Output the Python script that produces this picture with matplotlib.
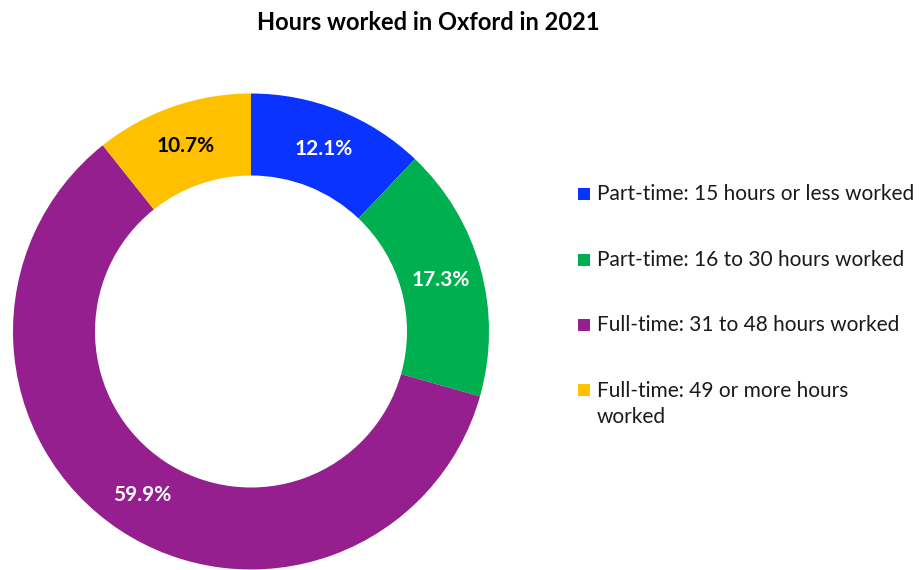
import matplotlib
matplotlib.use("Agg")
import matplotlib.pyplot as plt
from matplotlib.patches import Rectangle

plt.rcParams['font.family'] = ['Lato', 'DejaVu Sans']

title = "Hours worked in Oxford in 2021"
categories = [
    "Part-time: 15 hours or less worked",
    "Part-time: 16 to 30 hours worked",
    "Full-time: 31 to 48 hours worked",
    "Full-time: 49 or more hours\nworked",
]
values = [12.1, 17.3, 59.9, 10.7]
colors = ["#0A33FF", "#00B050", "#951F8F", "#FFC000"]
label_colors = ["white", "white", "white", "black"]

W, H = 922, 570
fig = plt.figure(figsize=(W / 100, H / 100), dpi=100)

cx, cy, R = 251, 331.5, 238
ax = fig.add_axes([(cx - R) / W, (H - cy - R) / H, 2 * R / W, 2 * R / H])

width = 1 - 156 / 238
wedges, texts, autotexts = ax.pie(
    values, colors=colors, startangle=90, counterclock=False, radius=1,
    wedgeprops=dict(width=width, edgecolor='none'),
    autopct=lambda p: f"{p:.1f}%", pctdistance=1 - width / 2,
    textprops=dict(fontsize=15, fontweight='bold'))
for t, c in zip(autotexts, label_colors):
    t.set_color(c)
ax.set_xlim(-1, 1)
ax.set_ylim(-1, 1)
ax.set_aspect('equal')
ax.axis('off')

fig.text(428 / W, 1 - 22 / H, title, ha='center', va='center',
         fontsize=17, fontweight='bold', color='#000000')

rows_y = [194, 260, 325, 390]
for lab, col, y in zip(categories, colors, rows_y):
    fig.patches.append(Rectangle((578 / W, 1 - (y + 6) / H), 12 / W, 12 / H,
                                 transform=fig.transFigure, facecolor=col,
                                 edgecolor='none'))
    if '\n' in lab:
        fig.text(597 / W, 1 - (y - 9) / H, lab, ha='left', va='top',
                 fontsize=15, color='#1a1a1a', linespacing=1.4)
    else:
        fig.text(597 / W, 1 - y / H, lab, ha='left', va='center',
                 fontsize=15, color='#1a1a1a')

fig.savefig("out.png", dpi=100)
